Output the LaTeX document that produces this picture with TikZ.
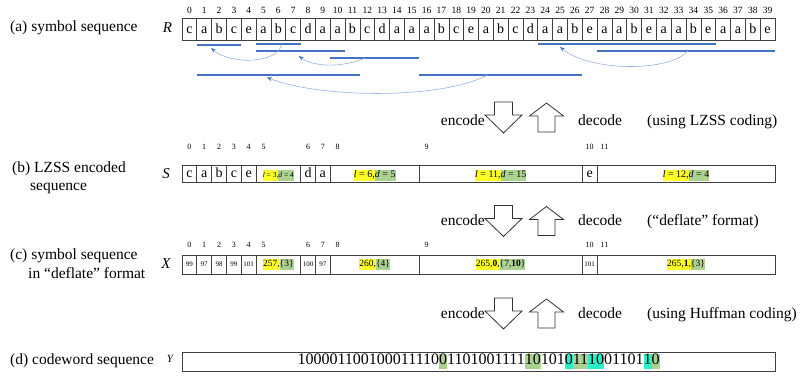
\documentclass[tikz,border=0pt]{standalone}
\usepackage{fontspec}
\setmainfont{Liberation Serif}
\usetikzlibrary{arrows.meta,calc}

\definecolor{barblue}{RGB}{68,114,196}
\definecolor{curveblue}{RGB}{150,178,224}
\definecolor{hlyellow}{RGB}{255,255,40}
\definecolor{hlgreen}{RGB}{172,210,146}
\definecolor{hlcyan}{RGB}{40,240,200}

\newcommand{\hlstrut}{\rule[-3pt]{0pt}{10.5pt}}
\newcommand{\hl}[2]{{\setlength{\fboxsep}{0pt}\colorbox{#1}{\hlstrut#2}}}
\newcommand{\lzpair}[3][10]{\fontsize{#1}{#1}\selectfont\hl{hlyellow}{\textit{l} = #2,}\hl{hlgreen}{\textit{d} = #3}}
\newcommand{\dfpair}[2]{\fontsize{9.5}{10}\selectfont\hl{hlyellow}{#1,}\hl{hlgreen}{\{#2\}}}

\tikzset{
	box/.style={draw=black!75, line width=0.7pt, inner sep=0pt},
	letter/.style={font=\fontsize{14}{14}\selectfont, text height=10pt, text depth=2pt},
	code/.style={font=\fontsize{7}{7}\selectfont, text height=5pt, text depth=1pt},
	idx/.style={font=\fontsize{8}{9}\selectfont, inner sep=0pt},
	lbl/.style={font=\fontsize{15.5}{18}\selectfont, inner sep=0pt, anchor=west, align=left},
	seqname/.style={font=\fontsize{15}{16}\selectfont\itshape, inner sep=0pt},
	word/.style={font=\fontsize{15.5}{16}\selectfont, inner sep=0pt},
	bar/.style={barblue, line width=1.8pt},
	backref/.style={curveblue, line width=0.6pt, -{Stealth[length=5pt,width=4pt,color=barblue]}},
	blockarrow/.style={draw=black!80, line width=0.8pt, line join=miter},
}

\begin{document}
\begin{tikzpicture}[x=1pt,y=-1pt]
	\def\cw{14.825}
	\def\xo{182}
	\newcommand{\lzbar}[4]{\draw[bar] ({\xo+\cw*#2},#4) coordinate (#1w) -- ({\xo+\cw*(#3+1)},#4) coordinate (#1e);}
	\useasboundingbox (0,0) rectangle (800,388);

	% (a) symbol sequence R
	\node[lbl] (laba) at (10,28) {(a) symbol sequence};
	\node[seqname] (R) at (167.5,28) {R};
	\foreach \ch [count=\i from 0] in {c,a,b,c,e,a,b,c,d,a,a,b,c,d,a,a,a,b,c,e,a,b,c,d,a,a,b,e,a,a,b,e,a,a,b,e,a,a,b,e}{
		\node[box, letter, minimum width=\cw, minimum height=22] (r\i) at ({\xo+\cw*(\i+0.5)},29) {\ch};
		\node[idx, font=\fontsize{9.5}{10}\selectfont] (ri\i) at ({\xo+\cw*(\i+0.5)},10) {\i};
	}

	% matches and back references
	\lzbar{srcA}{1}{3}{45}
	\lzbar{dstA}{5}{7}{44}
	\lzbar{srcB}{5}{10}{51}
	\lzbar{dstB}{10}{15}{58}
	\lzbar{srcC}{1}{11}{75}
	\lzbar{dstC}{16}{26}{75}
	\lzbar{srcD}{24}{35}{44}
	\lzbar{dstD}{28}{39}{51}
	\draw[backref] ($(dstAw)!.58!(dstAe)$) .. controls +(-4,20) and +(19,17) .. ($(srcAw)!.32!(srcAe)+(0,3)$);
	\draw[backref] ($(dstBw)!.39!(dstBe)$) .. controls +(-20,9) and +(16,12) .. ($(srcBw)!.48!(srcBe)+(0,5)$);
	\draw[backref] ($(dstCw)!.42!(dstCe)$) .. controls +(-48,25) and +(53,20.5) .. ($(srcCw)!.43!(srcCe)+(0,2.5)$);
	\draw[backref] ($(dstDw)!.51!(dstDe)$) .. controls +(-18,21) and +(30,25) .. ($(srcDw)!.125!(srcDe)+(0,3)$);

	% encode / decode steps
	\foreach \ya/\yt/\note [count=\j] in {117.5/122/{(using LZSS coding)},221/222/{(“deflate” format)},313.5/315/{(using Huffman coding)}}{
		\draw[blockarrow, shift={(503.5,\ya)}] (-9,-15.5) -- (9,-15.5) -- (9,-2.5) -- (18.5,-2.5) -- (0,15.5) -- (-18.5,-2.5) -- (-9,-2.5) -- cycle;
		\draw[blockarrow, shift={(546.5,\ya)}] (0,-14.5) -- (17,-1.5) -- (8.5,-1.5) -- (8.5,14.5) -- (-8.5,14.5) -- (-8.5,-1.5) -- (-17,-1.5) -- cycle;
		\node[word, anchor=base east] (enc\j) at (485,{\yt+3.5}) {encode};
		\node[word, anchor=base west] (dec\j) at (578,{\yt+3.5}) {decode};
		\node[word, anchor=base west] (note\j) at (647,{\yt+3.5}) {\note};
	}

	% (b) LZSS encoded S
	\node[lbl] (labb) at (12,178) {(b) LZSS encoded\\\hspace*{18pt}sequence};
	\node[seqname] (S) at (166,174) {S};
	\foreach \s/\n/\k/\txt in {0/1/0/c,1/1/1/a,2/1/2/b,3/1/3/c,4/1/4/e,5/3/5/\lzpair[7.5]{3}{4},8/1/6/d,9/1/7/a,10/6/8/\lzpair{6}{5},16/11/9/\lzpair{11}{15},27/1/10/e,28/12/11/\lzpair{12}{4}}{
		\node[box, letter, minimum width=\n*\cw, minimum height=17.5] (s\k) at ({\xo+\cw*(\s+\n/2)},173.75) {\txt};
		\node[idx] (si\k) at ({\xo+\cw*(\s+0.5)},147) {\k};
	}

	% (c) deflate symbols X
	\node[lbl] (labc) at (10,263.5) {(c) symbol sequence\\[1pt]\hspace*{18pt}in “deflate” format};
	\node[seqname] (X) at (166,264) {X};
	\foreach \s/\n/\k/\txt in {0/1/0/99,1/1/1/97,2/1/2/98,3/1/3/99,4/1/4/101,5/3/5/\dfpair{257}{3},8/1/6/100,9/1/7/97,10/6/8/\dfpair{260}{4},16/11/9/{\dfpair{265,\textbf{0}}{7,\textbf{10}}},27/1/10/101,28/12/11/{\dfpair{265,\textbf{1}}{3}}}{
		\node[box, code, minimum width=\n*\cw, minimum height=19.5] (x\k) at ({\xo+\cw*(\s+\n/2)},264.75) {\txt};
		\node[idx] (xi\k) at ({\xo+\cw*(\s+0.5)},245) {\k};
	}

	% (d) codewords Y
	\node[lbl] (labd) at (10,361) {(d) codeword sequence};
	\node[seqname, font=\fontsize{11}{12}\selectfont\itshape] (Y) at (170,359) {Y};
	\node[box, font=\fontsize{16}{16}\selectfont, minimum width=593.2, minimum height=19] (y) at (478.6,361.5) {\def\hlstrut{\rule[-4.3pt]{0pt}{13.6pt}}100001100100011110\hl{hlgreen}{0}1101001111\hl{hlgreen}{10}101\hl{hlcyan}{0}\hl{hlgreen}{11}\hl{hlcyan}{10}01101\hl{hlcyan}{1}\hl{hlgreen}{0}};
\end{tikzpicture}
\end{document}
